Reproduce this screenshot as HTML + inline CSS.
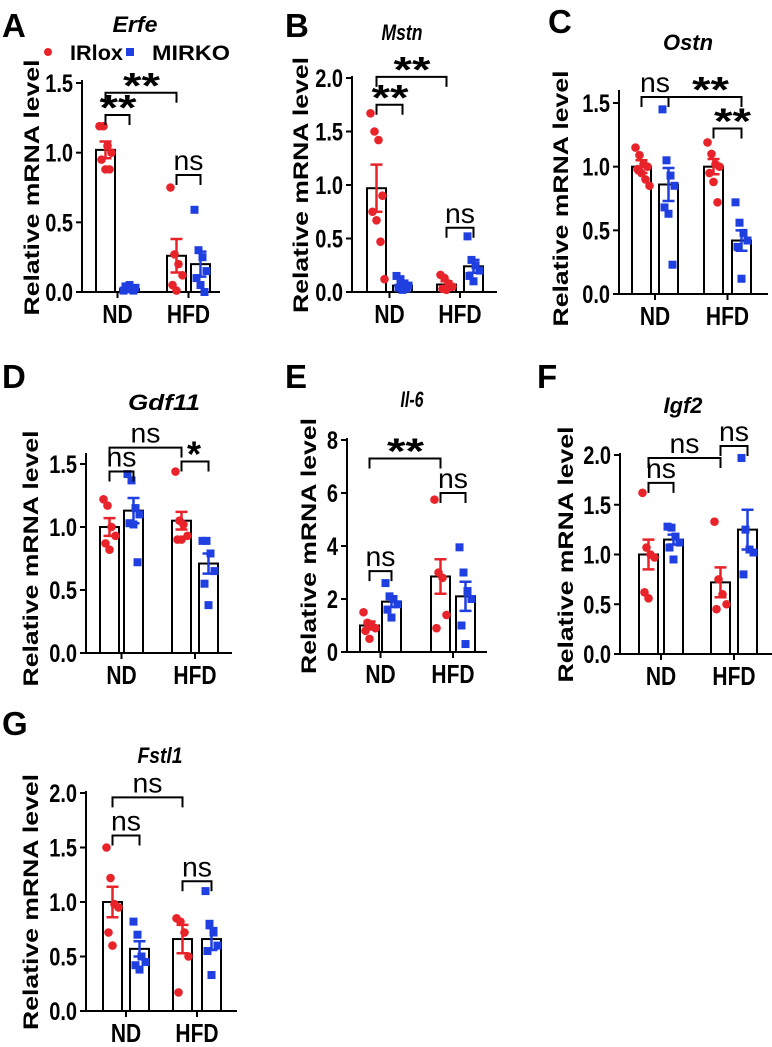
<!DOCTYPE html>
<html><head><meta charset="utf-8"><style>
body{margin:0;background:#fff}
svg{display:block;font-family:"Liberation Sans",Arial,sans-serif}
</style></head><body>
<svg id="fig" width="772" height="1047" viewBox="0 0 772 1047"></svg>
<script>
const groups=["ND","HFD"];
const erfeMeans=[1.02,0.02,0.26,0.20], erfeErrs=[0.06,0.01,0.12,0.09];
const erfePts=[[1.19,1.19,1.05,1.0,0.95,0.88,0.88],[0.01,0.02,0.02,0.03,0.04,0.05,0.01],[0.75,0.27,0.2,0.12,0.05,0.01],[0.59,0.3,0.25,0.15,0.1,0.05,0.0]];
const mstnMeans=[0.97,0.06,0.07,0.24], mstnErrs=[0.22,0.02,0.03,0.06];
const mstnPts=[[1.67,1.5,1.42,0.9,0.75,0.67,0.47,0.12],[0.15,0.12,0.08,0.06,0.04,0.02,0.03],[0.16,0.13,0.08,0.05,0.03,0.02],[0.52,0.3,0.25,0.2,0.15,0.1]];
const ostnMeans=[1.0,0.86,1.0,0.42], ostnErrs=[0.05,0.13,0.06,0.08];
const ostnPts=[[1.15,1.09,1.02,1.0,0.98,0.95,0.9,0.85],[1.45,1.05,0.93,0.85,0.68,0.63,0.23],[1.19,1.1,1.02,1.0,0.95,0.88,0.72],[0.72,0.56,0.48,0.42,0.37,0.12]];
const gdfMeans=[1.0,1.13,1.05,0.71], gdfErrs=[0.07,0.1,0.07,0.08];
const gdfPts=[[1.22,1.17,1.0,0.93,0.87,0.82],[1.42,1.37,1.15,1.1,1.03,1.02,0.72],[1.44,1.05,1.02,0.93,0.9,0.9],[0.89,0.89,0.79,0.65,0.55,0.38]];
const il6Means=[1.0,1.9,2.85,2.1], il6Errs=[0.15,0.2,0.65,0.55];
const il6Pts=[[1.5,1.1,1.0,0.9,0.8,0.5],[2.6,2.1,2.0,1.8,1.6,1.3],[5.75,3.0,2.8,1.4,0.9],[3.95,3.0,2.3,2.0,1.0,0.3]];
const igfMeans=[1.0,1.15,0.72,1.25], igfErrs=[0.15,0.05,0.15,0.2];
const igfPts=[[1.62,1.07,1.0,0.97,0.62,0.56],[1.28,1.27,1.18,1.12,1.07,0.95],[1.33,0.75,0.6,0.5,0.45],[1.97,1.25,1.05,1.02,0.8]];
const fstMeans=[1.0,0.57,0.66,0.66], fstErrs=[0.14,0.07,0.13,0.1];
const fstPts=[[1.5,1.22,0.98,0.95,0.72,0.6],[0.82,0.7,0.5,0.45,0.42,0.38],[0.85,0.82,0.72,0.5,0.17],[1.1,0.8,0.72,0.6,0.55,0.33]];
const tick15=["0.0","0.5","1.0","1.5"], tick20=["0.0","0.5","1.0","1.5","2.0"], tick8=["0","2","4","6","8"];

const panels=[
 {id:"a",letter:"A",lx:2,ly:37,title:"Erfe",tx:135,ty:32,tl:45,x0:82,yT:83,yB:292,top:80,max:1.5,ticks:tick15,bo:[14,38,85,109],end:220,ytx:31,m:erfeMeans,e:erfeErrs,p:erfePts,
  br:[[0,1,1.27,"**"],[0,2,1.43,"**"],[2,3,0.84,"ns"]],legend:true},
 {id:"b",letter:"B",lx:285,ly:37,title:"Mstn",tx:402,ty:40,tl:41,x0:352,yT:78,yB:292,top:76,max:2.0,ticks:tick20,bo:[15,41,85,112],end:497,ytx:300,m:mstnMeans,e:mstnErrs,p:mstnPts,
  br:[[0,1,1.75,"**"],[0,2,2.01,"**"],[2,3,0.6,"ns"]]},
 {id:"c",letter:"C",lx:548,ly:33,title:"Ostn",tx:688,ty:50,tl:50,x0:619,yT:103,yB:294,top:90,max:1.5,ticks:tick15,bo:[13,40,85,113],end:768,ytx:560,m:ostnMeans,e:ostnErrs,p:ostnPts,
  br:[[0,1,1.547,"ns"],[0,3,1.547,"**",710],[2,3,1.3,"**",732]]},
 {id:"d",letter:"D",lx:2,ly:388,title:"Gdf11",tx:164,ty:410,tl:72,x0:86,yT:464,yB:653,top:453,max:1.5,ticks:tick15,bo:[14,38,86,113],end:232,ytx:30,m:gdfMeans,e:gdfErrs,p:gdfPts,
  br:[[0,1,1.44,"ns"],[0,2,1.63,"ns"],[2,3,1.52,"*"]]},
 {id:"e",letter:"E",lx:285,ly:388,title:"Il-6",tx:412,ty:407,tl:23,x0:347,yT:440,yB:652,top:438,max:8,ticks:tick8,bo:[13,35,84,109],end:487,ytx:308,m:il6Means,e:il6Errs,p:il6Pts,
  br:[[0,1,3.05,"ns"],[0,2,7.3,"**"],[2,3,6.0,"ns"]]},
 {id:"f",letter:"F",lx:537,ly:388,title:"Igf2",tx:683,ty:413,tl:39,x0:620,yT:455,yB:654,top:453,max:2.0,ticks:tick20,bo:[19,44,91,118],end:772,ytx:565,m:igfMeans,e:igfErrs,p:igfPts,
  br:[[0,1,1.72,"ns"],[0,2,1.97,"ns"],[2,3,2.09,"ns"]]},
 {id:"g",letter:"G",lx:2,ly:735,title:"Fstl1",tx:160,ty:763,tl:45,x0:86,yT:793,yB:1011,top:791,max:2.0,ticks:tick20,bo:[17,44,87,116],end:237,ytx:30,m:fstMeans,e:fstErrs,p:fstPts,
  br:[[0,1,1.61,"ns"],[0,2,1.96,"ns"],[2,3,1.19,"ns"]]}
];
const NS="http://www.w3.org/2000/svg";
const svg=document.getElementById("fig");
function mk(tag,attrs,parent,txt){const e=document.createElementNS(NS,tag);for(const k in attrs)e.setAttribute(k,attrs[k]);if(txt!==undefined)e.textContent=txt;(parent||svg).appendChild(e);return e;}
function txt(parent,x,y,s,attrs,sy,len,rot){
  const a=Object.assign({x:0,y:0,transform:`translate(${x} ${y}) scale(1 ${sy||1})${rot?' rotate(-90)':''}`},attrs);
  if(len){a.textLength=len;a.lengthAdjust="spacingAndGlyphs";}
  return mk("text",a,parent,s);
}
const barW=19, cols=["#e8232a","#1f3fe0"];
panels.forEach(P=>{
  const g=mk("g",{});
  
  
  const y=v=>P.yB-(v/P.max)*(P.yB-P.yT);
  const bx=i=>P.x0+P.bo[i];
  const bc=i=>bx(i)+barW/2;
  const L=txt(g,P.lx,P.ly,P.letter,{"font-size":33,"font-weight":"bold"});
  
  
  const T=txt(g,P.tx-P.tl/2,P.ty,P.title,{"font-size":20,"font-weight":"bold","font-style":"italic"},1.1,P.tl);
  
  
  const ym=(P.yT+P.yB)/2;
  const YT=txt(g,P.ytx+8,ym+128,"Relative mRNA level",{"font-size":21,"font-weight":"bold"},1,256,true);
  
  
  const ax=mk("path",{d:`M${P.x0} ${P.top}V${P.yB}H${P.end}`,stroke:"#000","stroke-width":2,fill:"none"},g);
  
  
  P.ticks.forEach((t,i)=>{
    const v=i*P.max/(P.ticks.length-1);
    mk("line",{x1:P.x0-6,x2:P.x0,y1:y(v),y2:y(v),stroke:"#000","stroke-width":2},g);
    const tl=txt(g,P.x0-9,y(v)+9,t,{"font-size":20,"font-weight":"bold","text-anchor":"end"},1.25);
    
    
  });
  groups.forEach((gr,k)=>{
    const cx=(bx(2*k)+bx(2*k+1)+barW)/2;
    mk("line",{x1:cx,x2:cx,y1:P.yB,y2:P.yB+6,stroke:"#000","stroke-width":2},g);
    const xl=txt(g,cx,P.yB+31,gr,{"font-size":21,"font-weight":"bold","text-anchor":"middle"},1.25);
    
    
  });
  P.m.forEach((mv,i)=>{
    const b=mk("rect",{x:bx(i),y:y(mv),width:barW,height:P.yB-y(mv),fill:"#fff",stroke:"#000","stroke-width":2},g);
    
    
  });
  P.p.forEach((arr,i)=>{
    arr.forEach((v,j)=>{
      const off=((j%4)-1.5)*4+(j>=4?2:0);
      const px=bc(i)+off, py=y(v);
      let d;
      if(i%2===0){d=mk("circle",{cx:px,cy:py,r:4.3,fill:cols[0]},g);}
      else{d=mk("rect",{x:px-4,y:py-4,width:8,height:8,fill:cols[1]},g);}
      
      
    });
  });
  P.m.forEach((mv,i)=>{
    const c=bc(i), t=y(mv+P.e[i]), b=y(mv-P.e[i]), col=cols[i%2];
    const eb=mk("path",{d:`M${c} ${t}V${b}M${c-6} ${t}H${c+6}M${c-6} ${b}H${c+6}`,stroke:col,"stroke-width":2.5,fill:"none"},g);
    
    
  });
  P.br.forEach(([a,b2,lv,lab,lx])=>{
    const x1=bc(a), x2=bc(b2), yy=y(lv);
    const bp=mk("path",{d:`M${x1} ${yy+10}V${yy}H${x2}V${yy+10}`,stroke:"#000","stroke-width":2,fill:"none"},g);
    
    
    const cx=lx||(x1+x2)/2;
    let st;
    if(lab==="ns") st=txt(g,cx-15,yy-5,lab,{"font-size":23},1.2,30);
    else if(lab==="**") st=txt(g,cx-18,yy+5,lab,{"font-size":36,"font-weight":"bold"},1,37);
    else st=txt(g,cx-8,yy+5,lab,{"font-size":36,"font-weight":"bold"},1);
    
    
  });
  if(P.legend){
    const lg=mk("g",{},g);
    
    
    mk("circle",{cx:48,cy:52,r:4,fill:cols[0]},lg);
    txt(lg,70,60,"IRlox",{"font-size":19,"font-weight":"bold"},1.1,53);
    mk("rect",{x:126,y:48,width:8,height:8,fill:cols[1]},lg);
    txt(lg,152,60,"MIRKO",{"font-size":19,"font-weight":"bold"},1.1,78);
  }
});
</script>
</body></html>
